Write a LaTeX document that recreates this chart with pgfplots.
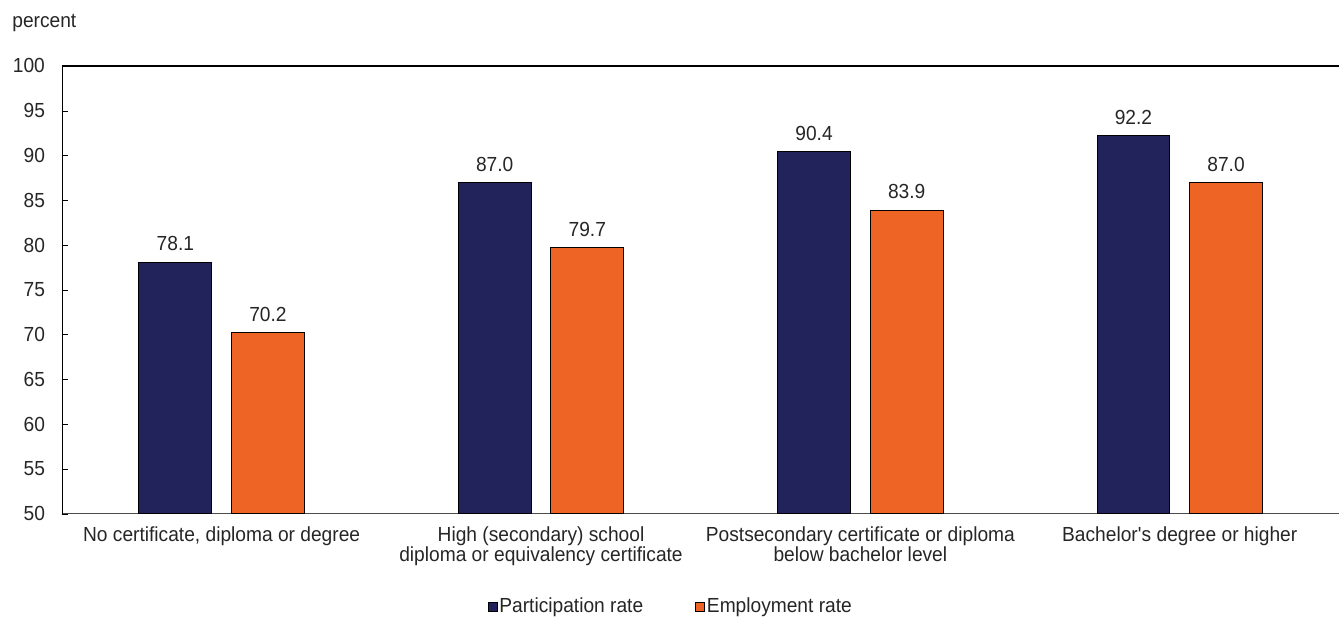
\documentclass[border=0pt]{standalone}
\usepackage{pgfplots}
\pgfplotsset{compat=1.18}
\usepackage{fontspec}
\setmainfont{Liberation Sans}[FakeStretch=0.94]
\definecolor{navy}{HTML}{23235B}
\definecolor{orng}{HTML}{EE6424}
\newcommand{\fs}{\fontsize{10.2}{10}\selectfont}
\begin{document}
\begin{tikzpicture}
\begin{axis}[name=ax,
  width=639pt, height=224pt, scale only axis,
  xmin=-0.5, xmax=3.5, ymin=50, ymax=100,
  ybar, bar width=0.228,
  axis x line*=bottom, axis y line*=left,
  x axis line style={draw=black!70, -},
  y axis line style={draw=black, -},
  ytick={50,55,...,100},
  xtick={0,1,2,3},
  xticklabels={{No certificate, diploma or degree},{High (secondary) school\\diploma or equivalency certificate},{Postsecondary certificate or diploma\\below bachelor level},{Bachelor\textquotesingle s degree or higher}},
  xticklabel style={align=center, yshift=-3pt, font=\fs, text=black!85},
  yticklabel style={xshift=-5pt, font=\fs, text=black!85},
  x tick style={draw=none},
  y tick style={draw=black},
  tick align=inside, major tick length=3pt,
  /pgf/number format/assume math mode=true,
  nodes near coords,
  nodes near coords style={font=\fs, text=black!85, yshift=2pt,
    /pgf/number format/.cd, fixed, fixed zerofill, precision=1, assume math mode=true},
  legend style={at={(0.5,0)}, anchor=north, xshift=-15pt, yshift=-39pt, draw=none,
    font=\fs, text=black!85, legend columns=2,
    /tikz/every even column/.append style={column sep=25pt},
    nodes={inner sep=1pt}},
  legend cell align=left,
  legend image code/.code={\draw[#1,draw=black,line width=0.4pt] (0pt,-2.2pt) rectangle (4.5pt,2.2pt);},
  clip=false,
]
\addplot[fill=navy, draw=black, line width=0.5pt, bar shift=-0.145] coordinates {(0,78.1) (1,87.0) (2,90.4) (3,92.2)};
\addlegendentry{Participation rate}
\addplot[fill=orng, draw=black, line width=0.5pt, bar shift=0.145] coordinates {(0,70.2) (1,79.7) (2,83.9) (3,87.0)};
\addlegendentry{Employment rate}
\draw[black, line width=0.6pt] (rel axis cs:0,1) -- (rel axis cs:1,1);
\end{axis}
\node[anchor=base west, font=\fs, text=black!85, inner sep=0pt] at ([xshift=-25pt,yshift=19pt]ax.north west) {percent};
\path[use as bounding box] ([xshift=-31pt,yshift=-47.5pt]ax.south west) rectangle ([yshift=33pt]ax.north east);
\end{tikzpicture}
\end{document}
